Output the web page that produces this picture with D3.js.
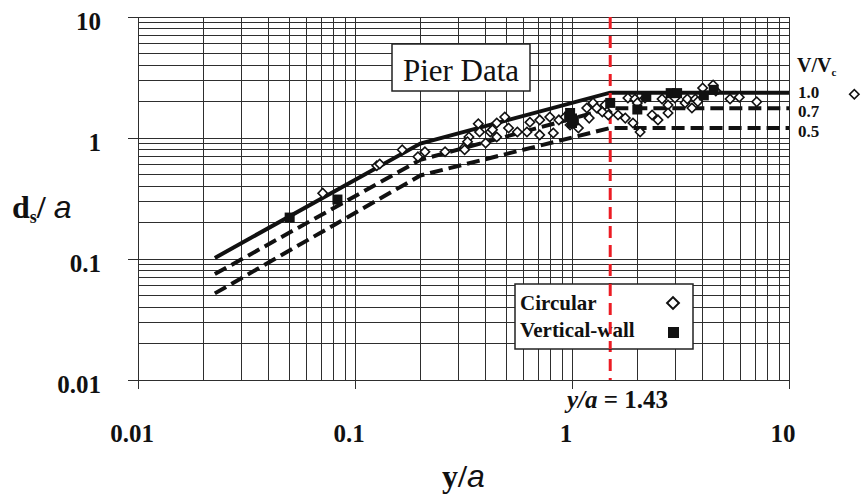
<!DOCTYPE html>
<html lang="en">
<head>
  <meta charset="UTF-8" />
  <title>Pier Data - scour depth</title>
  <style>
    body { margin: 0; background: #fff; overflow: hidden; }
    svg { position: absolute; top: 0; left: 0; }
    .grid line { stroke: #2e2e2e; stroke-width: 1px; shape-rendering: crispEdges; }
    .tlab { font-family: "Liberation Serif", serif; font-weight: bold; font-size: 25px; fill: #111; }
    .env { fill: none; stroke: #111; stroke-width: 4px; }
  </style>
</head>
<body>

<svg id="chart"></svg>

<script src="https://d3js.org/d3.v7.min.js"></script>
<script>
  const width = 861, height = 495;

  // envelope curves (y/a breakpoints, ds/a for each V/Vc)
  const yaBreaks = [0.0226, 0.2, 1.5, 10];
  const env10 = [0.102, 0.9, 2.37, 2.37];
  const env07 = [0.075, 0.66, 1.76, 1.76];
  const env05 = [0.052, 0.49, 1.21, 1.21];
  const envLabels = ["1.0", "0.7", "0.5"];

  // Circular piers (open diamonds)
  const circX = [0.071, 0.126, 0.13, 0.165, 0.21, 0.195, 0.26, 0.32, 0.32, 0.335, 0.33, 0.37, 0.375, 0.42, 0.40,
    0.45, 0.45, 0.49, 0.43, 0.51, 0.56, 0.62, 0.64, 0.71, 0.71, 0.82, 0.79, 0.87, 0.93, 1.07, 0.98, 1.17,
    1.25, 1.2, 1.3, 1.42, 1.45, 1.38, 1.47, 1.63, 1.76, 1.81, 1.95, 1.91, 2.0, 2.06, 2.17, 2.34, 2.49,
    2.6, 2.77, 2.77, 2.98, 3.32, 3.4, 3.57, 3.7, 3.8, 4.0, 4.47, 4.6, 5.35, 5.9, 7.1];
  const circY = [0.35, 0.59, 0.61, 0.80, 0.77, 0.70, 0.77, 0.84, 0.80, 1.02, 0.93, 1.31, 1.12, 1.12, 0.91,
    1.33, 1.02, 1.49, 1.17, 1.21, 1.12, 1.12, 1.35, 1.41, 1.06, 1.10, 1.49, 1.41, 1.49, 1.21, 1.28, 1.77,
    1.95, 1.46, 1.77, 1.87, 1.64, 1.64, 1.55, 1.55, 1.46, 2.14, 2.1, 1.33, 1.95, 1.12, 2.14, 1.55, 1.41,
    2.1, 1.87, 1.61, 2.14, 1.95, 2.1, 1.77, 2.1, 2.0, 2.59, 2.74, 2.45, 2.1, 2.17, 1.99];

  // Vertical-wall piers (filled squares)
  const wallX = [0.05, 0.083, 0.97, 0.98, 1.0, 1.0, 1.02, 1.5, 2.0, 2.2, 2.85, 3.05, 4.05, 4.5];
  const wallY = [0.22, 0.31, 1.5, 1.61, 1.45, 1.33, 1.4, 1.95, 1.72, 2.2, 2.35, 2.35, 2.25, 2.5];

  // marker cut off at the right edge of the original figure
  const strayX = [20], strayY = [2.3];

  const xTickLabels = ["0.01", "0.1", "1", "10"];
  const yTickLabels = ["0.01", "0.1", "1", "10"];
  const critYa = 1.5;

  const svg = d3.select("#chart").attr("width", width).attr("height", height);

  const x = d3.scaleLog().domain([0.01, 10]).range([138, 789]);
  const y = d3.scaleLog().domain([0.01, 10]).range([380, 17]);

  // log grid
  const grid = svg.append("g").attr("class", "grid");
  grid.selectAll(".vx").data(x.ticks()).enter().append("line")
    .attr("x1", d => x(d)).attr("x2", d => x(d))
    .attr("y1", y(10)).attr("y2", d => xTickLabels.includes(String(d)) ? y(0.01) + 9 : y(0.01));
  grid.selectAll(".hy").data(y.ticks()).enter().append("line")
    .attr("y1", d => y(d)).attr("y2", d => y(d))
    .attr("x1", d => yTickLabels.includes(String(d)) ? x(0.01) - 10 : x(0.01)).attr("x2", x(10));

  // tick labels
  svg.selectAll(".xl").data(xTickLabels).enter().append("text")
    .attr("class", "tlab").attr("text-anchor", "middle")
    .attr("x", d => x(+d) - 6).attr("y", 442).text(d => d);
  svg.selectAll(".yl").data(yTickLabels).enter().append("text")
    .attr("class", "tlab").attr("text-anchor", "end")
    .attr("x", 101).attr("y", d => y(+d) + 13).text(d => d);

  // envelope lines
  const line = d3.line().x(d => x(d[0])).y(d => y(d[1]));
  const envs = [env10, env07, env05];
  envs.forEach((vals, i) => {
    svg.append("path").attr("class", "env")
      .attr("d", line(yaBreaks.map((v, j) => [v, vals[j]])))
      .attr("stroke-dasharray", i === 0 ? null : "13,6");
  });

  // critical depth line
  svg.append("line")
    .attr("x1", x(critYa)).attr("x2", x(critYa))
    .attr("y1", y(10)).attr("y2", y(0.01))
    .attr("stroke", "#ec1c24").attr("stroke-width", 3)
    .attr("stroke-dasharray", "12,7");

  // data points
  const diamond = d3.symbol().type(d3.symbolSquare).size(44);
  svg.selectAll(".circ").data(circX.map((v, i) => [v, circY[i]])).enter().append("path")
    .attr("d", diamond)
    .attr("transform", d => `translate(${x(d[0])},${y(d[1])}) rotate(45)`)
    .attr("fill", "#fff").attr("stroke", "#111").attr("stroke-width", 1.6);
  svg.selectAll(".wall").data(wallX.map((v, i) => [v, wallY[i]])).enter().append("rect")
    .attr("x", d => x(d[0]) - 5).attr("y", d => y(d[1]) - 5)
    .attr("width", 10).attr("height", 10).attr("fill", "#111");
  svg.selectAll(".stray").data(strayX.map((v, i) => [v, strayY[i]])).enter().append("path")
    .attr("d", diamond)
    .attr("transform", d => `translate(${x(d[0])},${y(d[1])}) rotate(45)`)
    .attr("fill", "#fff").attr("stroke", "#111").attr("stroke-width", 1.6);

  // V/Vc labels at right end
  const vv = svg.append("text").attr("class", "tlab").style("font-size", "20px")
    .attr("x", 797).attr("y", 72);
  vv.append("tspan").text("V/V");
  vv.append("tspan").attr("dy", 4).style("font-size", "11px").text("c");
  svg.selectAll(".vl").data(envLabels).enter().append("text")
    .attr("class", "tlab").style("font-size", "17px")
    .attr("x", 798).attr("y", (d, i) => [98, 117, 137][i]).text(d => d);

  // Pier Data box
  svg.append("rect").attr("x", 392).attr("y", 44).attr("width", 138).attr("height", 47)
    .attr("fill", "#fff").attr("stroke", "#222").attr("stroke-width", 1.5);
  svg.append("text").attr("x", 461).attr("y", 81).attr("text-anchor", "middle")
    .style("font-family", "Liberation Serif, serif").style("font-size", "31px").attr("fill", "#111")
    .text("Pier Data");

  // legend
  svg.append("rect").attr("x", 515).attr("y", 284).attr("width", 178).attr("height", 65)
    .attr("fill", "#fff").attr("stroke", "#222").attr("stroke-width", 1.5);
  svg.append("text").attr("class", "tlab").style("font-size", "21px")
    .attr("x", 520).attr("y", 310).text("Circular");
  svg.append("text").attr("class", "tlab").style("font-size", "21px")
    .attr("x", 520).attr("y", 337).text("Vertical-wall");
  svg.append("path").attr("d", d3.symbol().type(d3.symbolSquare).size(70))
    .attr("transform", "translate(673,303) rotate(45)")
    .attr("fill", "#fff").attr("stroke", "#111").attr("stroke-width", 2);
  svg.append("rect").attr("x", 668).attr("y", 327).attr("width", 11).attr("height", 11).attr("fill", "#111");

  // red line is drawn over the legend in the original
  svg.append("line")
    .attr("x1", x(critYa)).attr("x2", x(critYa))
    .attr("y1", 284).attr("y2", 349)
    .attr("stroke", "#ec1c24").attr("stroke-width", 3)
    .attr("stroke-dasharray", "12,7");

  // y/a = 1.43 annotation
  const ann = svg.append("text").attr("class", "tlab").style("font-size", "25px")
    .attr("x", 567).attr("y", 408);
  ann.append("tspan").style("font-style", "italic").text("y/a");
  ann.append("tspan").text(" = 1.43");

  // axis titles
  const yt = svg.append("text").attr("class", "tlab").style("font-size", "32px")
    .attr("x", 12).attr("y", 218);
  yt.append("tspan").text("d");
  yt.append("tspan").attr("dy", 5).style("font-size", "18px").text("s");
  yt.append("tspan").attr("dy", -5).text("/ ");
  yt.append("tspan").style("font-family", "Liberation Sans, sans-serif").style("font-style", "italic")
    .style("font-weight", "normal").text("a");

  const xt = svg.append("text").attr("class", "tlab").style("font-size", "32px")
    .attr("x", 442).attr("y", 487);
  xt.append("tspan").text("y/");
  xt.append("tspan").style("font-family", "Liberation Sans, sans-serif").style("font-style", "italic")
    .style("font-weight", "normal").text("a");
</script>

</body>
</html>
